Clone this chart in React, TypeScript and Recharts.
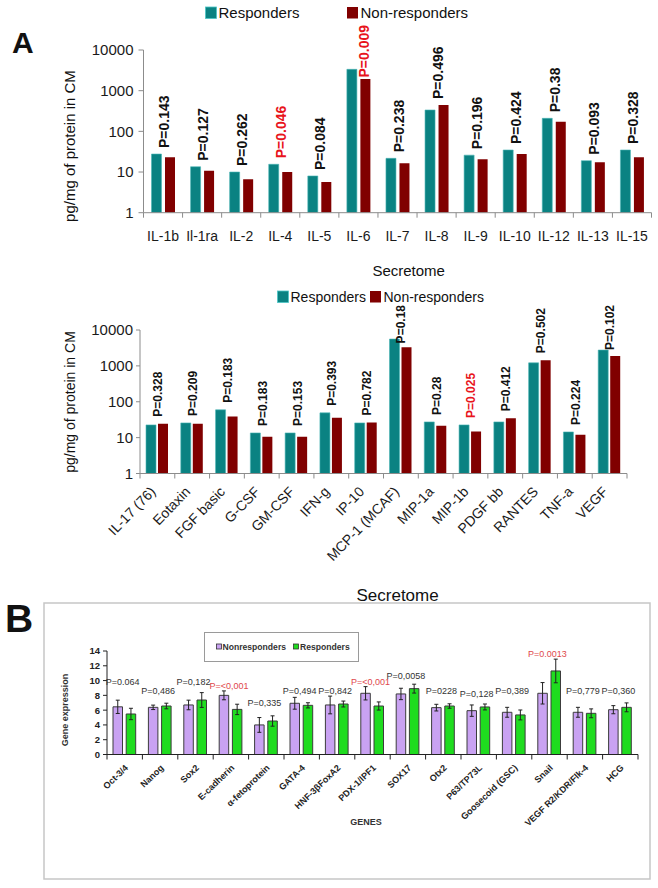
import React from 'react';
import { BarChart, Bar, XAxis, YAxis, Legend, ReferenceDot, ErrorBar } from 'recharts';

const FONT = '"Liberation Sans", Arial, Helvetica, sans-serif';

// ---------- Panel A, chart 1 (interleukins) ----------
const ilNames = ['IL-1b', 'Il-1ra', 'IL-2', 'IL-4', 'IL-5', 'IL-6', 'IL-7', 'IL-8', 'IL-9', 'IL-10', 'IL-12', 'IL-13', 'IL-15'];
const ilResponders = [27.7, 13.5, 10, 15.5, 8, 3350, 21.7, 335, 26, 34.8, 209, 19, 34.8];
const ilNonResponders = [23, 10.8, 6.6, 10, 5.7, 1940, 16.4, 445, 20.6, 27.7, 173, 17.3, 23];
const ilP = ['P=0.143', 'P=0.127', 'P=0.262', 'P=0.046', 'P=0.084', 'P=0.009', 'P=0.238', 'P=0.496', 'P=0.196', 'P=0.424', 'P=0.38', 'P=0.093', 'P=0.328'];
const ilSig = [false, false, false, true, false, true, false, false, false, false, false, false, false];

// ---------- Panel A, chart 2 (other cytokines) ----------
const cyNames = ['IL-17 (76)', 'Eotaxin', 'FGF basic', 'G-CSF', 'GM-CSF', 'IFN-g', 'IP-10', 'MCP-1 (MCAF)', 'MIP-1a', 'MIP-1b', 'PDGF bb', 'RANTES', 'TNF-a', 'VEGF'];
const cyResponders = [22.6, 25.7, 59.6, 13.5, 13.5, 49, 25.7, 5600, 27.4, 22.6, 27.4, 1214, 14.4, 2760];
const cyNonResponders = [24.5, 24.5, 38.6, 10.6, 10.6, 36, 26.2, 3280, 21.6, 14.7, 34.6, 1445, 12, 1870];
const cyP = ['P=0.328', 'P=0.209', 'P=0.183', 'P=0.183', 'P=0.153', 'P=0.393', 'P=0.782', 'P=0.18', 'P=0.28', 'P=0.025', 'P=0.412', 'P=0.502', 'P=0.224', 'P=0.102'];
const cySig = [false, false, false, false, false, false, false, false, false, true, false, false, false, false];

const logTicks = [1, 10, 100, 1000, 10000];

// ---------- Panel B (gene expression) ----------
const genes = ['Oct-3/4', 'Nanog', 'Sox2', 'E-cadherin', 'α-fetoprotein', 'GATA-4', 'HNF-3βFoxA2', 'PDX-1/IPF1', 'SOX17', 'Otx2', 'P63/TP73L', 'Goosecoid (GSC)', 'Snail', 'VEGF R2/KDR/Flk-4', 'HCG'];
const geneNonResponders = [6.45, 6.38, 6.7, 8.0, 4.0, 6.93, 6.7, 8.28, 8.19, 6.34, 5.93, 5.71, 8.28, 5.71, 6.06];
const geneNonRespErr = [0.9, 0.3, 0.65, 0.6, 1.0, 0.8, 1.2, 0.9, 0.77, 0.45, 0.77, 0.67, 1.45, 0.67, 0.55];
const geneResponders = [5.48, 6.56, 7.37, 6.1, 4.53, 6.65, 6.83, 6.56, 8.91, 6.56, 6.43, 5.35, 11.3, 5.57, 6.38];
const geneRespErr = [0.77, 0.38, 1.0, 0.7, 0.7, 0.35, 0.4, 0.55, 0.6, 0.3, 0.4, 0.67, 1.6, 0.6, 0.6];
const geneP = ['P=0.064', 'P=0,486', 'P=0,182', 'P=<0,001', 'P=0,335', 'P=0,494', 'P=0,842', 'P=<0,001', 'P=0,0058', 'P=0228', 'P=0,128', 'P=0,389', 'P=0.0013', 'P=0,779', 'P=0,360'];
const geneSig = [false, false, false, true, false, false, false, true, false, false, false, false, true, false, false];
const genePLevel = [9.85, 8.63, 9.85, 9.27, 6.93, 8.63, 8.63, 9.85, 10.6, 8.63, 8.18, 8.63, 13.6, 8.63, 8.63];
const geneTicks = [0, 2, 4, 6, 8, 10, 12, 14];

// ---------- tables ----------
const ilData = ilNames.map((name, i) => ({ name, resp: ilResponders[i], non: ilNonResponders[i] }));
const cyData = cyNames.map((name, i) => ({ name, resp: cyResponders[i], non: cyNonResponders[i] }));
const geneData = genes.map((name, i) => ({
  name,
  non: geneNonResponders[i],
  nonErr: geneNonRespErr[i],
  resp: geneResponders[i],
  respErr: geneRespErr[i],
}));

const TEAL = '#0a8282';
const MAROON = '#800000';
const RED = '#e8141c';
const LILAC = '#c9a2f2';
const GREEN = '#1fdc1f';

const boldW: Record<string, number> = { P: 0.667, '=': 0.584, '.': 0.278, ',': 0.278, '<': 0.584 };
const textWidth = (s: string, size: number) =>
  s.split('').reduce((a, c) => a + (boldW[c] ?? 0.556), 0) * size;

const makeRotLabel = (text: string, color: string, fontSize: number, gap: number, minTop: number, shiftX: number) =>
  (props: any) => {
    const vb = props.viewBox || {};
    const cx = (vb.x ?? 0) + (vb.width ?? 0) / 2;
    const cy = (vb.y ?? 0) + (vb.height ?? 0) / 2;
    const len = textWidth(text, fontSize);
    let x = cx + 1;
    let ay = cy - gap;
    let anchor: 'start' | 'end' = 'start';
    if (ay - len < minTop) {
      ay = minTop;
      anchor = 'end';
      x = cx + shiftX;
    }
    return (
      <text
        transform={`translate(${x},${ay}) rotate(-90)`}
        textAnchor={anchor}
        dominantBaseline="central"
        fontSize={fontSize}
        fontWeight="bold"
        fill={color}
        fontFamily={FONT}
      >
        {text}
      </text>
    );
  };

const makeFlatLabel = (text: string, color: string) => (props: any) => {
  const vb = props.viewBox || {};
  const cx = (vb.x ?? 0) + (vb.width ?? 0) / 2;
  const cy = (vb.y ?? 0) + (vb.height ?? 0) / 2;
  return (
    <text x={cx - 2} y={cy} textAnchor="middle" dominantBaseline="central" fontSize={9} fill={color} fontFamily={FONT}>
      {text}
    </text>
  );
};

// category tick with marks between categories
const makeCatTick = (bw: number, n: number, mode: 'flat' | 'rot14' | 'rot9', axisColor: string) => (props: any) => {
  const { x, y, payload } = props;
  const i = payload?.index ?? props.index ?? 0;
  const tl = 5;
  let label: React.ReactNode = null;
  if (mode === 'flat') {
    label = (
      <text x={x} y={y + 28} textAnchor="middle" fontSize={14} fill="#1a1a1a" fontFamily={FONT}>
        {payload.value}
      </text>
    );
  } else if (mode === 'rot14') {
    const ax = x - 1;
    const ay = y + 19;
    label = (
      <text x={ax} y={ay} transform={`rotate(-46 ${ax} ${ay})`} textAnchor="end" fontSize={14} fill="#1a1a1a" fontFamily={FONT}>
        {payload.value}
      </text>
    );
  } else {
    const ax = x + 4;
    const ay = y + 14;
    label = (
      <text x={ax} y={ay} transform={`rotate(-44 ${ax} ${ay})`} textAnchor="end" fontSize={9} fontWeight="bold" fill="#222" fontFamily={FONT}>
        {payload.value}
      </text>
    );
  }
  return (
    <g>
      <line x1={x - bw / 2} x2={x - bw / 2} y1={y} y2={y + tl} stroke={axisColor} strokeWidth={1} />
      {i === n - 1 && <line x1={x + bw / 2} x2={x + bw / 2} y1={y} y2={y + tl} stroke={axisColor} strokeWidth={1} />}
      {label}
    </g>
  );
};

const TopLegend = ({ gap1, fontSize }: { gap1: number; fontSize: number }) => (
  <svg width={280} height={22} style={{ display: 'block', overflow: 'visible' }}>
    <rect x={0.5} y={5} width={11} height={11.5} fill={TEAL} stroke="#4cc6c6" strokeWidth={0.8} />
    <text x={13.5} y={16} fontSize={fontSize} fill="#111" fontFamily={FONT}>Responders</text>
    <rect x={gap1} y={5} width={11} height={11.5} fill={MAROON} />
    <text x={gap1 + 13.5} y={16} fontSize={fontSize} fill="#111" fontFamily={FONT}>Non-responders</text>
  </svg>
);

const BLegend = () => (
  <svg width={156} height={30} style={{ display: 'block', overflow: 'visible' }}>
    <rect x={0.5} y={0.5} width={154} height={29} fill="#fff" stroke="#9a9a9a" strokeWidth={1} />
    <rect x={12.5} y={12} width={5} height={5} fill={LILAC} stroke="#333" strokeWidth={0.8} />
    <text x={18.5} y={18} fontSize={8.6} fontWeight="bold" fill="#333" fontFamily={FONT}>Nonresponders</text>
    <rect x={89.5} y={12} width={5} height={5} fill={GREEN} stroke="#333" strokeWidth={0.8} />
    <text x={96} y={18} fontSize={8.6} fontWeight="bold" fill="#333" fontFamily={FONT}>Responders</text>
  </svg>
);

const AX = '#8c8c8c';

export default function App() {
  const bw1 = (651.5 - 143.5) / ilNames.length;
  const bw2 = (627 - 140) / cyNames.length;
  const bw3 = (638 - 107) / genes.length;
  return (
    <div style={{ position: 'absolute', left: 0, top: 0, width: 658, height: 888, background: '#fff', fontFamily: FONT, overflow: 'hidden' }}>
      {/* Chart A1 */}
      <div style={{ position: 'absolute', left: 0, top: 0 }}>
        <BarChart width={658} height={260} data={ilData} margin={{ top: 50, right: 6.5, bottom: 7.3, left: 0 }} barSize={10} barGap={3.5}>
          <XAxis
            dataKey="name"
            height={40}
            interval={0}
            tickSize={0}
            tickMargin={0}
            tickLine={false}
            axisLine={{ stroke: AX }}
            tick={makeCatTick(bw1, ilNames.length, 'flat', AX)}
          />
          <YAxis
            width={143.5}
            scale="log"
            type="number"
            domain={[1, 10000]}
            ticks={logTicks}
            allowDataOverflow
            interval={0}
            tickSize={5}
            tickMargin={5}
            axisLine={{ stroke: AX }}
            tickLine={{ stroke: AX }}
            tick={{ fontSize: 15, fill: '#1a1a1a', fontFamily: FONT }}
          />
          <Legend
            layout="horizontal"
            verticalAlign="middle"
            align="center"
            wrapperStyle={{ left: 205, top: 2, width: 280, height: 22 }}
            content={() => <TopLegend gap1={142} fontSize={15} />}
          />
          <Bar dataKey="resp" name="Responders" fill={TEAL} stroke="#49b5b5" strokeWidth={0.6} isAnimationActive={false} />
          <Bar dataKey="non" name="Non-responders" fill={MAROON} isAnimationActive={false} />
          {ilData.map((d, i) => (
            <ReferenceDot
              key={d.name}
              x={d.name}
              y={Math.max(d.resp, d.non)}
              r={1}
              fill="none"
              stroke="none"
              ifOverflow="visible"
              label={makeRotLabel(ilP[i], ilSig[i] ? RED : '#111', 14, 6, 25, 6)}
            />
          ))}
        </BarChart>
      </div>

      {/* Chart A2 */}
      <div style={{ position: 'absolute', left: 0, top: 255 }}>
        <BarChart width={658} height={345} data={cyData} margin={{ top: 75, right: 31, bottom: 26.5, left: 0 }} barSize={10} barGap={2}>
          <XAxis
            dataKey="name"
            height={100}
            interval={0}
            tickSize={0}
            tickMargin={0}
            tickLine={false}
            axisLine={{ stroke: AX }}
            tick={makeCatTick(bw2, cyNames.length, 'rot14', AX)}
          />
          <YAxis
            width={140}
            scale="log"
            type="number"
            domain={[1, 10000]}
            ticks={logTicks}
            allowDataOverflow
            interval={0}
            tickSize={4}
            tickMargin={3}
            axisLine={{ stroke: AX }}
            tickLine={{ stroke: AX }}
            tick={{ fontSize: 15, fill: '#1a1a1a', fontFamily: FONT }}
          />
          <Legend
            layout="horizontal"
            verticalAlign="middle"
            align="center"
            wrapperStyle={{ left: 277, top: 31, width: 280, height: 22 }}
            content={() => <TopLegend gap1={93} fontSize={14} />}
          />
          <Bar dataKey="resp" name="Responders" fill={TEAL} stroke="#49b5b5" strokeWidth={0.6} isAnimationActive={false} />
          <Bar dataKey="non" name="Non-responders" fill={MAROON} isAnimationActive={false} />
          {cyData.map((d, i) => (
            <ReferenceDot
              key={d.name}
              x={d.name}
              y={Math.max(d.resp, d.non)}
              r={1}
              fill="none"
              stroke="none"
              ifOverflow="visible"
              label={makeRotLabel(cyP[i], cySig[i] ? RED : '#111', 12, 7, 50, 0)}
            />
          ))}
        </BarChart>
      </div>

      {/* Panel B frame */}
      <svg width={658} height={888} style={{ position: 'absolute', left: 0, top: 0, pointerEvents: 'none' }}>
        <rect x={44} y={603} width={606} height={276} fill="none" stroke="#c6c6c6" strokeWidth={1.5} />
      </svg>

      {/* Chart B */}
      <div style={{ position: 'absolute', left: 0, top: 620 }}>
        <BarChart width={658} height={230} data={geneData} margin={{ top: 31, right: 20, bottom: 15.5, left: 0 }} barSize={9.5} barGap={3.7}>
          <XAxis
            dataKey="name"
            height={80}
            interval={0}
            tickSize={0}
            tickMargin={0}
            tickLine={false}
            axisLine={{ stroke: '#222' }}
            tick={makeCatTick(bw3, genes.length, 'rot9', '#222')}
          />
          <YAxis
            width={107}
            type="number"
            domain={[0, 14]}
            ticks={geneTicks}
            interval={0}
            tickSize={4}
            tickMargin={3}
            axisLine={{ stroke: '#222' }}
            tickLine={{ stroke: '#222' }}
            tick={{ fontSize: 9.5, fontWeight: 'bold', fill: '#222', fontFamily: FONT }}
          />
          <Legend
            layout="horizontal"
            verticalAlign="middle"
            align="center"
            wrapperStyle={{ left: 204, top: 11.5, width: 156, height: 30 }}
            content={() => <BLegend />}
          />
          <Bar dataKey="non" name="Nonresponders" fill={LILAC} stroke="#3c3c3c" strokeWidth={1} isAnimationActive={false}>
            <ErrorBar dataKey="nonErr" width={2} stroke="#222" strokeWidth={1} direction="y" />
          </Bar>
          <Bar dataKey="resp" name="Responders" fill={GREEN} stroke="#3c3c3c" strokeWidth={1} isAnimationActive={false}>
            <ErrorBar dataKey="respErr" width={2} stroke="#222" strokeWidth={1} direction="y" />
          </Bar>
          {geneData.map((d, i) => (
            <ReferenceDot
              key={d.name}
              x={d.name}
              y={genePLevel[i]}
              r={1}
              fill="none"
              stroke="none"
              ifOverflow="visible"
              label={makeFlatLabel(geneP[i], geneSig[i] ? '#e0474c' : '#333')}
            />
          ))}
        </BarChart>
      </div>

      {/* Titles and axis captions */}
      <svg width={658} height={888} style={{ position: 'absolute', left: 0, top: 0, pointerEvents: 'none' }}>
        <text x={12} y={53} fontSize={30} fontWeight="bold" fill="#111" fontFamily={FONT}>A</text>
        <text x={5} y={632} fontSize={39} fontWeight="bold" fill="#111" fontFamily={FONT}>B</text>
        <text x={408.7} y={275.5} textAnchor="middle" fontSize={15} fill="#111" fontFamily={FONT}>Secretome</text>
        <text x={397.6} y={601} textAnchor="middle" fontSize={17} fill="#111" fontFamily={FONT}>Secretome</text>
        <text transform="translate(69,146) rotate(-90)" textAnchor="middle" dominantBaseline="central" fontSize={15} fill="#111" fontFamily={FONT}>
          pg/mg of protein in CM
        </text>
        <text transform="translate(70,402) rotate(-90)" textAnchor="middle" dominantBaseline="central" fontSize={14} fill="#111" fontFamily={FONT}>
          pg/mg of protein in CM
        </text>
        <text transform="translate(65,710) rotate(-90)" textAnchor="middle" dominantBaseline="central" fontSize={9} fontWeight="bold" fill="#333" fontFamily={FONT}>
          Gene expression
        </text>
        <text x={366} y={825} textAnchor="middle" fontSize={9} fontWeight="bold" fill="#333" fontFamily={FONT}>GENES</text>
      </svg>
    </div>
  );
}
